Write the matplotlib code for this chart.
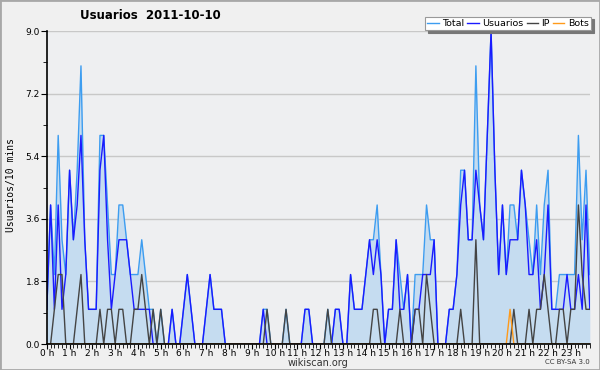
import matplotlib
matplotlib.use("Agg")
import matplotlib.pyplot as plt
from matplotlib.patches import Rectangle
import numpy as np

# one value per 10 minutes, 2011-10-10
usuarios = [1,4,1,4,1,2, 5,3,4,6,3,1, 1,1,5,6,3,1, 2,3,3,3,2,1,
            1,1,1,1,0,0, 0,0,0,1,0,0, 1,2,1,0,0,0, 1,2,1,1,1,0,
            0,0,0,0,0,0, 0,0,0,1,0,0, 0,0,0,0,0,0, 0,0,1,1,0,0,
            0,0,0,0,1,1, 0,0,2,1,1,1, 2,3,2,3,2,0, 1,1,3,1,1,2,
            0,1,1,2,2,2, 3,0,0,0,1,1, 2,4,5,3,3,5, 4,3,6,9,5,2,
            4,2,3,3,3,5, 4,2,2,3,1,2, 4,1,1,1,1,2, 1,1,2,1,4,1]
ip = [0,0,1,2,2,0, 0,0,1,2,0,0, 0,0,1,0,1,1, 0,1,1,0,0,1,
      1,2,1,0,1,0, 1,0,0,0,0,0, 0,0,0,0,0,0, 0,0,0,0,0,0,
      0,0,0,0,0,0, 0,0,0,0,1,0, 0,0,0,1,0,0, 0,0,0,0,0,0,
      0,0,1,0,0,0, 0,0,0,0,0,0, 0,0,1,1,0,0, 0,0,0,1,0,0,
      0,1,1,0,2,1, 0,0,0,0,0,0, 0,1,0,0,0,3, 0,0,0,0,0,0,
      0,0,0,1,0,0, 0,1,0,1,1,2, 1,0,0,1,1,0, 1,1,4,2,1,1]
bots = [0]*122 + [1] + [0]*21
total = [1,4,2,6,3,2, 5,3,5,8,3,1, 1,1,6,6,4,2, 2,4,4,3,2,2,
         2,3,2,1,1,0, 1,0,0,1,0,0, 1,2,1,0,0,0, 1,2,1,1,1,0,
         0,0,0,0,0,0, 0,0,0,1,1,0, 0,0,0,1,0,0, 0,0,1,1,0,0,
         0,0,1,0,1,1, 0,0,2,1,1,1, 2,3,3,4,2,0, 1,1,3,2,1,2,
         0,2,2,2,4,3, 3,0,0,0,1,1, 2,5,5,3,3,8, 4,3,6,9,5,2,
         4,2,4,4,3,5, 4,3,2,4,2,4, 5,1,1,2,2,2, 2,2,6,3,5,2]
hour_labels = ["%d h" % h for h in range(24)]

x = np.arange(len(total))

fig = plt.figure(figsize=(6, 3.7), dpi=100, facecolor="#f0f0f0")
fig.patches.append(Rectangle((0, 0), 1, 1, transform=fig.transFigure,
                             fill=False, edgecolor="#a8a8a8", linewidth=2))
ax = fig.add_axes([0.078, 0.070, 0.905, 0.846])
ax.set_facecolor("#eeeff1")

ax.fill_between(x, total, color="#c5dcf0", linewidth=0)
ax.plot(x, total, color="#3d9df0", lw=1.0, label="Total")
ax.plot(x, usuarios, color="#1a1aff", lw=1.0, label="Usuarios")
ax.plot(x, ip, color="#444444", lw=1.0, label="IP")
ax.plot(x, bots, color="#ff9a1a", lw=1.0, label="Bots")

ax.set_xlim(0, len(total) - 1)
ax.set_ylim(0, 9)
ax.set_yticks([0, 1.8, 3.6, 5.4, 7.2, 9.0])
ax.set_yticklabels(["0.0", "1.8", "3.6", "5.4", "7.2", "9.0"])
ax.set_yticks(np.arange(0.9, 9, 1.8), minor=True)
ax.set_xticks(np.arange(0, 144, 6))
ax.set_xticklabels(hour_labels)
ax.set_xticks(np.arange(0, 144, 1), minor=True)
ax.grid(axis="y", color="#c8c8c8", lw=1)
ax.set_axisbelow(True)
for s in ["top", "right"]:
    ax.spines[s].set_visible(False)
ax.spines["left"].set_linewidth(1.2)
ax.spines["bottom"].set_linewidth(1.2)
ax.tick_params(axis="both", which="both", direction="out", labelsize=6.5,
               color="black")
ax.tick_params(axis="x", which="both", pad=0)
ax.tick_params(axis="y", which="both", pad=1)
ax.tick_params(axis="x", which="major", length=3.5)
ax.tick_params(axis="x", which="minor", length=3)
ax.tick_params(axis="y", which="major", length=4)
ax.tick_params(axis="y", which="minor", length=3)

ax.set_xlabel("wikiscan.org", fontsize=7, color="#333333", labelpad=0)
fig.text(0.018, 0.50, "Usuarios/10 mins", rotation=90, fontsize=7,
         family="DejaVu Sans Mono", va="center", ha="center")
fig.text(0.25, 0.957, "Usuarios  2011-10-10", fontsize=8.5, fontweight="bold",
         ha="center", va="center")
fig.text(0.983, 0.022, "CC BY-SA 3.0", fontsize=5, ha="right", va="center",
         color="#333333")

leg = ax.legend(loc="upper right", bbox_to_anchor=(0.985, 0.955),
                bbox_transform=fig.transFigure, borderaxespad=0, ncol=4,
                fontsize=6.8, handlelength=1.2, handletextpad=0.35,
                columnspacing=0.35, borderpad=0.25, fancybox=False,
                framealpha=1, shadow={"color": "#777777", "alpha": 1})
leg.get_frame().set_edgecolor("#999999")
leg.get_frame().set_linewidth(0.8)

fig.savefig("out.png", dpi=100, facecolor=fig.get_facecolor())
